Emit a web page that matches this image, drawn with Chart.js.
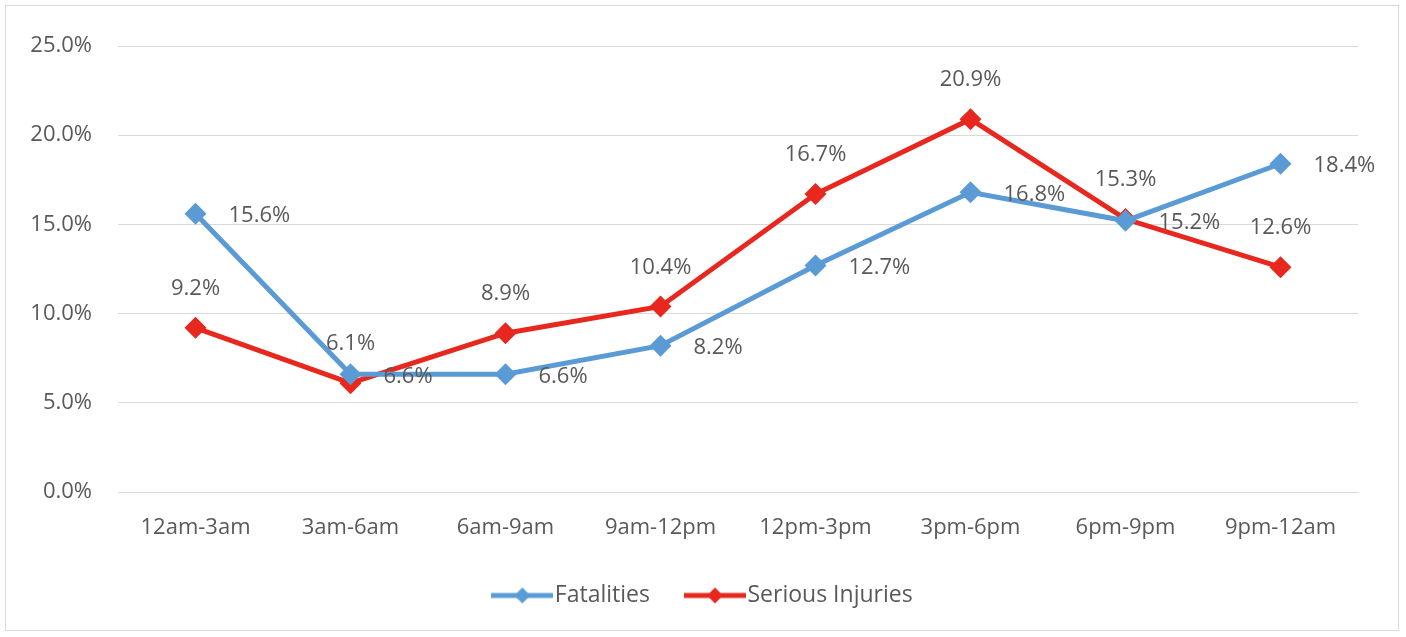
<!DOCTYPE html>
<html>
<head>
<meta charset="utf-8">
<script src="https://cdn.jsdelivr.net/npm/chart.js@4.4.1/dist/chart.umd.min.js"></script>
<style>
  body { margin: 0; background: #fff; }
  #wrap { position: relative; width: 1406px; height: 637px; }
  #frame { position: absolute; left: 5px; top: 5px; width: 1392px; height: 624px; border: 1px solid #d9d9d9; pointer-events: none; }
</style>
</head>
<body>
<div id="wrap">
  <canvas id="myLineChart" width="1406" height="637"></canvas>
  <div id="frame"></div>
</div>
<script>
// time bands and the share of crashes in each
const timeBands = ['12am-3am', '3am-6am', '6am-9am', '9am-12pm', '12pm-3pm', '3pm-6pm', '6pm-9pm', '9pm-12am'];
const fatalities = [15.6, 6.6, 6.6, 8.2, 12.7, 16.8, 15.2, 18.4];
const seriousInjuries = [9.2, 6.1, 8.9, 10.4, 16.7, 20.9, 15.3, 12.6];
const yTicks = [0, 5, 10, 15, 20, 25];

const BLUE = '#5b9bd5';
const RED = '#e8281e';
const FONT = '"Open Sans", sans-serif';
const TEXT = '#595959';

// legend swatch: a short line with a diamond on it
function legendSwatch(color) {
  const c = document.createElement('canvas');
  c.width = 62; c.height = 18;
  const g = c.getContext('2d');
  g.strokeStyle = color; g.lineWidth = 5;
  g.beginPath(); g.moveTo(0, 9); g.lineTo(62, 9); g.stroke();
  g.fillStyle = color;
  g.beginPath(); g.moveTo(31, 1); g.lineTo(39, 9); g.lineTo(31, 17); g.lineTo(23, 9); g.closePath(); g.fill();
  return c;
}

// draws the value labels: fatalities to the right, injuries above
const valueLabels = {
  id: 'valueLabels',
  afterDatasetsDraw(chart) {
    const ctx = chart.ctx;
    ctx.save();
    ctx.font = '22px ' + FONT;
    ctx.fillStyle = TEXT;
    ctx.textBaseline = 'middle';
    chart.data.datasets.forEach((ds, i) => {
      chart.getDatasetMeta(i).data.forEach((pt, j) => {
        const txt = ds.data[j].toFixed(1) + '%';
        if (i === 0) {
          ctx.textAlign = 'left';
          ctx.fillText(txt, pt.x + 33, pt.y + 2);
        } else {
          ctx.textAlign = 'center';
          ctx.fillText(txt, pt.x, pt.y - 39);
        }
      });
    });
    ctx.restore();
  }
};

// legend is centred on the whole page, not on the plot
const centreLegend = {
  id: 'centreLegend',
  afterLayout(chart) {
    chart.legend.left += 28;
    chart.legend.right += 28;
  }
};

const ctx = document.getElementById('myLineChart').getContext('2d');
const myLineChart = new Chart(ctx, {
  type: 'line',
  data: {
    labels: timeBands,
    datasets: [
      {
        label: 'Fatalities',
        data: fatalities,
        borderColor: BLUE,
        backgroundColor: BLUE,
        borderWidth: 5,
        pointStyle: 'rectRot',
        pointRadius: 11,
        pointBorderWidth: 0,
        tension: 0
      },
      {
        label: 'Serious Injuries',
        data: seriousInjuries,
        borderColor: RED,
        backgroundColor: RED,
        borderWidth: 5,
        pointStyle: 'rectRot',
        pointRadius: 11,
        pointBorderWidth: 0,
        tension: 0
      }
    ]
  },
  options: {
    responsive: false,
    animation: false,
    layout: { padding: { top: 46, right: 48, left: 0, bottom: 20 } },
    plugins: {
      tooltip: { enabled: false },
      legend: {
        position: 'bottom',
        labels: {
          usePointStyle: true,
          pointStyleWidth: 42,
          color: TEXT,
          font: { family: FONT, size: 23 },
          padding: 44,
          generateLabels(chart) {
            const items = Chart.defaults.plugins.legend.labels.generateLabels(chart);
            items.forEach((it, k) => { it.pointStyle = legendSwatch(k === 0 ? BLUE : RED); });
            return items;
          }
        }
      }
    },
    scales: {
      x: {
        offset: true,
        grid: { display: false },
        border: { color: '#d9d9d9' },
        afterFit(axis) { axis.height = 48; },
        ticks: { color: TEXT, font: { family: FONT, size: 22 }, padding: 15 }
      },
      y: {
        min: 0,
        max: 25,
        afterBuildTicks(axis) { axis.ticks = yTicks.map(v => ({ value: v })); },
        afterFit(axis) { axis.width = 118; },
        grid: { color: '#d9d9d9', drawTicks: false },
        border: { display: false },
        ticks: {
          color: TEXT,
          font: { family: FONT, size: 22 },
          padding: 26,
          callback: v => v.toFixed(1) + '%'
        }
      }
    }
  },
  plugins: [valueLabels, centreLegend]
});
</script>
</body>
</html>
